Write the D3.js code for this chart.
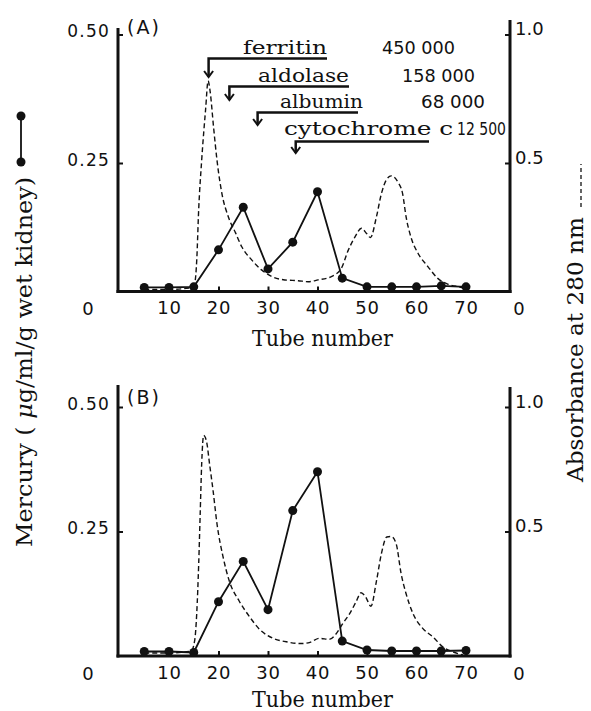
<!DOCTYPE html>
<html>
<head>
<meta charset="utf-8">
<script src="https://cdn.jsdelivr.net/npm/d3@7"></script>
<style>
  body { margin: 0; background: #fff; }
  svg { display: block; }
  .tick text { font-family: "DejaVu Sans", sans-serif; fill: #111; }
  .tick line { stroke: #111; stroke-width: 2; }
  .serif { font-family: "DejaVu Serif", serif; fill: #111; }
  .sans { font-family: "DejaVu Sans", sans-serif; fill: #111; }
</style>
</head>
<body>
<script>
var width = 591,
  height = 711;

// Tube numbers of the mercury fractions
var tubes = [5, 10, 15, 20, 25, 30, 35, 40, 45, 50, 55, 60, 65, 70];

// Mercury (ug/ml/g wet kidney), panel A and B
var mercuryA = [0.008, 0.008, 0.009, 0.081, 0.164, 0.044, 0.096, 0.194, 0.026, 0.009, 0.009, 0.009, 0.011, 0.009];
var mercuryB = [0.009, 0.009, 0.007, 0.109, 0.190, 0.093, 0.292, 0.370, 0.030, 0.012, 0.010, 0.010, 0.010, 0.011];

// Absorbance at 280 nm (dashed trace), panel A
var absTubesA = [5, 10, 14.5, 15.2, 15.6, 16.0, 16.6, 17.4, 17.9, 18.3, 19.0, 19.7, 20.7, 22.0, 23.4, 24.7, 26.7, 28.7, 30.8, 33.4, 36.1, 38.1, 40.1, 42.8, 44.8, 46.2, 47.5, 48.9, 49.9, 50.7, 51.9, 52.9, 53.9, 54.9, 56.2, 57.2, 57.9, 58.9, 60.3, 62.3, 64.3, 66.3, 68.3, 70.3];
var absA = [0.008, 0.008, 0.015, 0.033, 0.12, 0.32, 0.51, 0.71, 0.82, 0.78, 0.64, 0.51, 0.38, 0.29, 0.23, 0.174, 0.123, 0.084, 0.058, 0.045, 0.042, 0.038, 0.045, 0.058, 0.09, 0.16, 0.21, 0.246, 0.226, 0.21, 0.29, 0.38, 0.434, 0.45, 0.427, 0.38, 0.29, 0.21, 0.149, 0.097, 0.051, 0.029, 0.019, 0.013];

// Absorbance at 280 nm, panel B
var absTubesB = [5, 10, 14.5, 15.2, 15.6, 16.0, 16.3, 16.6, 17.0, 17.6, 18.2, 18.9, 19.7, 20.9, 22.2, 24.2, 26.3, 28.3, 31.0, 33.7, 36.7, 38.5, 40.4, 42.4, 43.8, 45.1, 46.5, 47.8, 48.8, 49.7, 50.8, 51.9, 52.9, 54.0, 54.9, 55.9, 56.9, 57.9, 59.3, 61.3, 63.3, 65.3, 67.3, 69.4];
var absB = [0.012, 0.012, 0.02, 0.064, 0.17, 0.37, 0.57, 0.77, 0.886, 0.86, 0.77, 0.665, 0.53, 0.40, 0.30, 0.22, 0.157, 0.107, 0.071, 0.057, 0.05, 0.055, 0.071, 0.067, 0.09, 0.13, 0.17, 0.218, 0.254, 0.238, 0.2, 0.30, 0.41, 0.478, 0.48, 0.45, 0.33, 0.25, 0.17, 0.11, 0.077, 0.037, 0.017, 0.004];

// axis ticks
var xTicks = [10, 20, 30, 40, 50, 60, 70];
var leftTicks = [0.25, 0.50];
var rightTicks = [0.5, 1.0];

// molecular weight standards (elution position in tubes)
var standardNames = ["ferritin", "aldolase", "albumin", "cytochrome c"];
var standardMW = ["450 000", "158 000", "68 000", "12 500"];
var standardTube = [18, 22.2, 27.9, 35.6];

var svg = d3.select("body")
  .append("svg")
  .attr("width", width)
  .attr("height", height);

svg.append("rect")
  .attr("width", width)
  .attr("height", height)
  .attr("fill", "#fff");

var leftX = 118,
  rightX = 510;

var x = d3.scaleLinear()
  .domain([0, 70])
  .range([119.5, 119.5 + 70 * 4.95]);

var panels = [
  { tag: "(A)", top: 34.5, bottom: 291.5, leftTop: 28, rightTop: 20, tagY: 34, titleY: 346, mercury: mercuryA, absX: absTubesA, abs: absA },
  { tag: "(B)", top: 407, bottom: 656, leftTop: 385, rightTop: 387, tagY: 404, titleY: 707, mercury: mercuryB, absX: absTubesB, abs: absB }
];

panels.forEach(function (p) {
  var yLeft = d3.scaleLinear().domain([0, 0.5]).range([p.bottom, p.top]);
  var yRight = d3.scaleLinear().domain([0, 1]).range([p.bottom, p.top]);
  var g = svg.append("g");

  // frame lines
  g.append("line")
    .attr("x1", leftX).attr("x2", leftX)
    .attr("y1", p.leftTop).attr("y2", p.bottom + 1.5)
    .attr("stroke", "#111").attr("stroke-width", 3);
  g.append("line")
    .attr("x1", rightX).attr("x2", rightX)
    .attr("y1", p.rightTop).attr("y2", p.bottom + 1.5)
    .attr("stroke", "#111").attr("stroke-width", 3);
  g.append("line")
    .attr("x1", leftX - 1.5).attr("x2", rightX + 1.5)
    .attr("y1", p.bottom).attr("y2", p.bottom)
    .attr("stroke", "#111").attr("stroke-width", 3);

  // axes
  var ax = g.append("g")
    .attr("transform", "translate(" + leftX + ",0)")
    .call(d3.axisLeft(yLeft).tickValues(leftTicks).tickFormat(d3.format(".2f"))
      .tickSizeInner(-5).tickSizeOuter(0).tickPadding(8));
  ax.select(".domain").remove();
  ax.selectAll(".tick text").attr("font-size", 17).attr("letter-spacing", 1.2).attr("dy", "0.12em");

  var ar = g.append("g")
    .attr("transform", "translate(" + rightX + ",0)")
    .call(d3.axisRight(yRight).tickValues(rightTicks).tickFormat(d3.format(".1f"))
      .tickSizeInner(-5).tickSizeOuter(0).tickPadding(5));
  ar.select(".domain").remove();
  ar.selectAll(".tick text").attr("font-size", 18).attr("dy", "0.0em");

  var ab = g.append("g")
    .attr("transform", "translate(0," + p.bottom + ")")
    .call(d3.axisBottom(x).tickValues(xTicks).tickFormat(d3.format("d"))
      .tickSizeInner(-5).tickSizeOuter(0).tickPadding(10));
  ab.select(".domain").remove();
  ab.selectAll(".tick text").attr("font-size", 18).attr("letter-spacing", 0.8);

  // zero labels of the two value axes
  [88, 519].forEach(function (zx) {
    g.append("text")
      .attr("class", "sans")
      .attr("x", zx)
      .attr("y", p.bottom + 23.5)
      .attr("text-anchor", "middle")
      .attr("font-size", 18)
      .text("0");
  });

  g.append("text")
    .attr("class", "sans")
    .attr("x", 127)
    .attr("y", p.tagY)
    .attr("font-size", 19)
    .attr("letter-spacing", 2)
    .text(p.tag);

  g.append("text")
    .attr("class", "serif")
    .attr("x", 252)
    .attr("y", p.titleY)
    .attr("font-size", 22)
    .attr("textLength", 141)
    .attr("lengthAdjust", "spacingAndGlyphs")
    .text("Tube number");

  // absorbance trace
  var absData = p.absX.map(function (t, i) { return [t, p.abs[i]]; });
  g.append("path")
    .datum(absData)
    .attr("fill", "none")
    .attr("stroke", "#111")
    .attr("stroke-width", 1.4)
    .attr("stroke-dasharray", "5,3")
    .attr("d", d3.line()
      .x(function (d) { return x(d[0]); })
      .y(function (d) { return yRight(d[1]); })
      .curve(d3.curveMonotoneX));

  // mercury
  var hgData = tubes.map(function (t, i) { return [t, p.mercury[i]]; });
  g.append("path")
    .datum(hgData)
    .attr("fill", "none")
    .attr("stroke", "#111")
    .attr("stroke-width", 1.8)
    .attr("d", d3.line()
      .x(function (d) { return x(d[0]); })
      .y(function (d) { return yLeft(d[1]); }));

  g.selectAll("circle")
    .data(hgData)
    .enter()
    .append("circle")
    .attr("cx", function (d) { return x(d[0]); })
    .attr("cy", function (d) { return yLeft(d[1]); })
    .attr("r", 4.5)
    .attr("fill", "#111");
});

// standards brackets in panel A
var stdLayout = [
  { textX: 243, textW: 84, base: 53.5, lineY: 58.5, lineEnd: 327, arrowEnd: 77, mwX: 382, mwW: 73 },
  { textX: 258, textW: 91, base: 81.5, lineY: 86.5, lineEnd: 349, arrowEnd: 100, mwX: 402, mwW: 73 },
  { textX: 280, textW: 83, base: 108, lineY: 112.5, lineEnd: 358, arrowEnd: 125, mwX: 421, mwW: 64 },
  { textX: 284, textW: 169, base: 135, lineY: 141.5, lineEnd: 429, arrowEnd: 153, mwX: 457, mwW: 49 }
];

var std = svg.append("g");
standardNames.forEach(function (name, i) {
  var L = stdLayout[i],
    ax = x(standardTube[i]);

  std.append("text")
    .attr("class", "serif")
    .attr("x", L.textX)
    .attr("y", L.base)
    .attr("font-size", 18)
    .attr("textLength", L.textW)
    .attr("lengthAdjust", "spacingAndGlyphs")
    .text(name);

  std.append("text")
    .attr("class", "sans")
    .attr("x", L.mwX)
    .attr("y", L.base)
    .attr("font-size", 18)
    .attr("textLength", L.mwW)
    .attr("lengthAdjust", "spacingAndGlyphs")
    .text(standardMW[i]);

  std.append("path")
    .attr("fill", "none")
    .attr("stroke", "#111")
    .attr("stroke-width", 2.5)
    .attr("d", "M" + L.lineEnd + "," + L.lineY + "H" + ax + "V" + L.arrowEnd);

  std.append("path")
    .attr("fill", "none")
    .attr("stroke", "#111")
    .attr("stroke-width", 2)
    .attr("d", "M" + (ax - 4.5) + "," + (L.arrowEnd - 6) + "L" + ax + "," + L.arrowEnd + "L" + (ax + 4.5) + "," + (L.arrowEnd - 6));
});

// left legend symbol and title
svg.append("line")
  .attr("x1", 21).attr("x2", 21)
  .attr("y1", 116).attr("y2", 162)
  .attr("stroke", "#111").attr("stroke-width", 1.8);
[116, 162].forEach(function (cy) {
  svg.append("circle").attr("cx", 21).attr("cy", cy).attr("r", 4.5).attr("fill", "#111");
});

var yTitle = svg.append("text")
  .attr("class", "serif")
  .attr("transform", "translate(32,547) rotate(-90)")
  .attr("font-size", 23)
  .attr("textLength", 370)
  .attr("lengthAdjust", "spacingAndGlyphs");
yTitle.append("tspan").text("Mercury ( ");
yTitle.append("tspan").attr("font-style", "italic").text("\u03bc");
yTitle.append("tspan").text("g/ml/g wet kidney)");

// right title and dashed legend
svg.append("text")
  .attr("class", "serif")
  .attr("transform", "translate(583,482) rotate(-90)")
  .attr("font-size", 22)
  .attr("textLength", 265)
  .attr("lengthAdjust", "spacingAndGlyphs")
  .text("Absorbance at 280 nm");

svg.append("line")
  .attr("x1", 581).attr("x2", 581)
  .attr("y1", 207).attr("y2", 164)
  .attr("stroke", "#111")
  .attr("stroke-width", 1.3)
  .attr("stroke-dasharray", "4,3");
</script>
</body>
</html>
